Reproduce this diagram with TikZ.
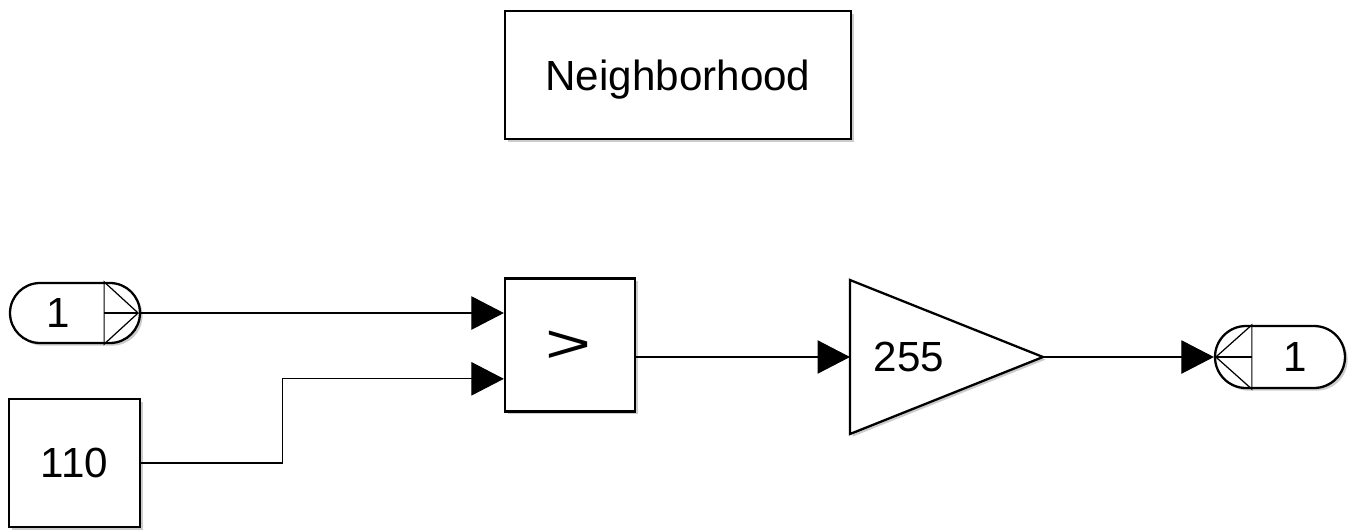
\documentclass[tikz,border=0pt]{standalone}
\usepackage{fontspec}
\setmainfont{Liberation Sans}
\usetikzlibrary{arrows.meta,shadows,calc}

\begin{document}
\begin{tikzpicture}[x=0.02cm, y=-0.02cm,
  blk/.style={draw, line width=1.3pt, fill=white, inner sep=0pt,
    drop shadow={shadow xshift=1.5pt, shadow yshift=-1.5pt, opacity=0.4}},
  port/.style={blk, rounded corners=0.6cm, minimum width=2.6cm, minimum height=1.2cm},
  sig/.style={line width=0.6pt, -{Triangle[length=18.5pt,width=19pt]}},
  thin/.style={line width=0.7pt},
  lbl/.style={font=\fontsize{24}{28}\selectfont, inner sep=0pt}]

\useasboundingbox (0,0) rectangle (1357,529);

% subsystem title
\node [blk, lbl, text depth=0pt, minimum width=6.92cm, minimum height=2.56cm] (title) at (678,75) {Neighborhood};

% input port
\node [port] (inport) at (75,313) {};
\draw [thin] ($(inport.north east)+(-37,0)$) -- ($(inport.east)+(-3,0)$) -- ($(inport.south east)+(-37,0)$) -- cycle;
\draw [thin] ($(inport.east)+(-37,0)$) -- ($(inport.east)+(-3,0)$);
\node [lbl] (inlbl) at (58,313) {1};

% constant
\node [blk, lbl, minimum width=2.62cm, minimum height=2.56cm] (cst) at (74.5,463) {110};

% relational operator
\node [blk, minimum width=2.6cm, minimum height=2.66cm] (cmp) at (570,345) {};
\node [lbl, font=\fontsize{28}{32}\selectfont] (cmplbl) at (568,347) {\scalebox{1.6}[1.1]{>}};
\coordinate (cmpin2) at ($(cmp.north west)!0.75!(cmp.south west)$);
\coordinate (cmpout) at ($(cmp.east)+(0,12)$);

% gain
\draw [blk, line join=miter] (850,280) -- (1043,357) -- (850,434) -- cycle;
\coordinate (gainin) at (850,357);
\coordinate (gainout) at (1043,357);
\node [lbl] (gainlbl) at (909,357) {255};

% output port
\node [port, minimum height=1.24cm, rounded corners=0.62cm] (outport) at (1280,357) {};
\draw [thin] ($(outport.north west)+(38,0)$) -- ($(outport.west)+(2,0)$) -- ($(outport.south west)+(38,0)$) -- cycle;
\draw [thin] ($(outport.west)+(2,0)$) -- ($(outport.west)+(38,0)$);
\node [lbl] (outlbl) at (1295,357) {1};

% signals
\draw [sig] (inport.east) -- (inport.east -| cmp.west);
\draw [sig] (cst.east) -- ++(141,0) |- (cmpin2);
\draw [sig] (cmpout) -- (gainin);
\draw [sig] (gainout) -- (outport.west);

\end{tikzpicture}
\end{document}
